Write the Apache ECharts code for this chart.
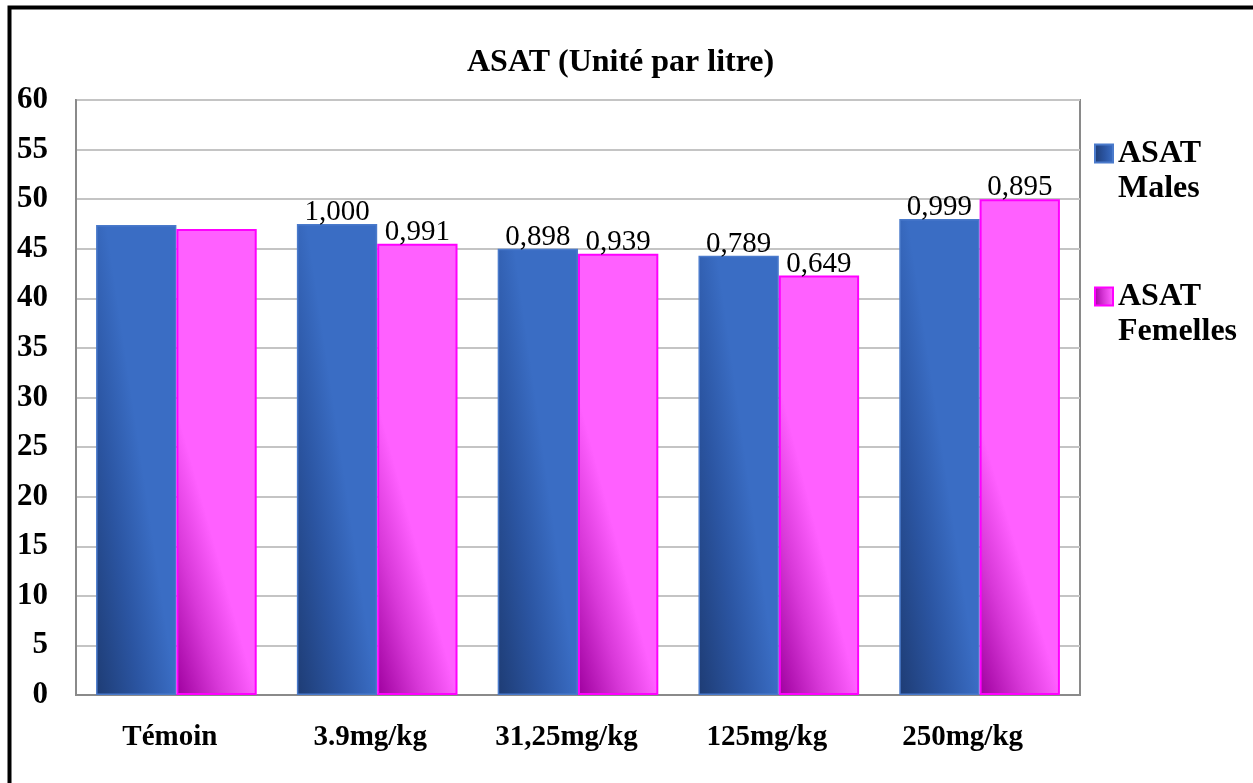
<!DOCTYPE html>
<html>
<head>
<meta charset="utf-8">
<script src="https://cdn.jsdelivr.net/npm/echarts@6/dist/echarts.min.js"></script>
<style>
html,body{margin:0;padding:0;background:#fff;}
#c{width:1253px;height:783px;}
</style>
</head>
<body>
<div id="c"></div>
<script>
var titleText = 'ASAT (Unité par litre)';
var categories = ['Témoin', '3.9mg/kg', '31,25mg/kg', '125mg/kg', '250mg/kg'];
var seriesNames = ['ASAT Males', 'ASAT Femelles'];
var malesValues = [47.4, 47.5, 45.0, 44.3, 48.0];
var femellesValues = [47.0, 45.5, 44.5, 42.3, 50.0];
var malesLabels = ['', '1,000', '0,898', '0,789', '0,999'];
var femellesLabels = ['', '0,991', '0,939', '0,649', '0,895'];
var yTicks = {min: 0, max: 60, interval: 5};

var FONT = '"Liberation Serif", "Times New Roman", serif';
var chart = echarts.init(document.getElementById('c'), null, {renderer: 'canvas'});

function grad(c0, c1, c2, x2, y2) {
  return new echarts.graphic.LinearGradient(0, 1, x2, y2, [
    {offset: 0, color: c0}, {offset: 0.55, color: c1}, {offset: 1, color: c2}
  ]);
}
var maleFill = grad('#1e3c74', '#2b55a2', '#3a6dc4', 0.98, 0.975);
var femFill = grad('#9e009e', '#d838d8', '#ff60ff', 0.93, 0.955);

function mkData(vals, labels) {
  return vals.map(function (v, i) {
    return {value: v, label: {show: labels[i] !== '', formatter: labels[i]}};
  });
}

// slight leftward drift of category labels as in the original rendering
var catShift = [13, 14, 23, 24, 34];
var catRich = {};
catShift.forEach(function (s, i) {
  catRich['c' + i] = {
    fontFamily: FONT, fontWeight: 'bold', fontSize: 29, color: '#000',
    padding: [0, s, 0, 0]
  };
});

chart.setOption({
  animation: false,
  backgroundColor: '#fff',
  title: {
    text: titleText,
    left: 467,
    top: 47,
    padding: 0,
    textStyle: {fontFamily: FONT, fontWeight: 'bold', fontSize: 32, color: '#000'}
  },
  legend: {
    orient: 'vertical',
    left: 1094,
    top: 101,
    padding: 0,
    icon: 'rect',
    itemWidth: 18,
    itemHeight: 18,
    itemGap: 38,
    data: seriesNames,
    formatter: function (n) { return '\n' + n.replace(' ', '\n'); },
    textStyle: {
      fontFamily: FONT, fontWeight: 'bold', fontSize: 32, color: '#000',
      lineHeight: 35
    }
  },
  grid: {
    left: 76, right: 173, top: 100, bottom: 88,
    show: true, borderColor: '#8a8a8a', borderWidth: 2, backgroundColor: 'transparent'
  },
  xAxis: {
    type: 'category',
    data: categories,
    axisLine: {lineStyle: {color: '#8a8a8a', width: 2}},
    axisTick: {show: false},
    axisLabel: {
      interval: 0,
      margin: 28, fontFamily: FONT, fontWeight: 'bold', fontSize: 29, color: '#000',
      formatter: function (v, i) { return '{c' + i + '|' + v + '}'; },
      rich: catRich
    }
  },
  yAxis: {
    type: 'value',
    min: yTicks.min, max: yTicks.max, interval: yTicks.interval,
    axisLine: {show: true, lineStyle: {color: '#8a8a8a', width: 2}},
    axisTick: {show: false},
    splitLine: {lineStyle: {color: '#c4c4c4', width: 2}},
    axisLabel: {
      margin: 28, fontFamily: FONT, fontWeight: 'bold', fontSize: 31, color: '#000'
    }
  },
  series: [
    {
      name: seriesNames[0],
      type: 'bar',
      barGap: '0%',
      barCategoryGap: '20%',
      data: mkData(malesValues, malesLabels),
      itemStyle: {color: maleFill, borderColor: '#4a7acb', borderWidth: 1.5},
      label: {
        position: 'top', distance: -3,
        fontFamily: FONT, fontSize: 29, color: '#000'
      }
    },
    {
      name: seriesNames[1],
      type: 'bar',
      data: mkData(femellesValues, femellesLabels),
      itemStyle: {color: femFill, borderColor: '#ff00ff', borderWidth: 2},
      label: {
        position: 'top', distance: -3,
        fontFamily: FONT, fontSize: 29, color: '#000'
      }
    }
  ],
  graphic: [{
    type: 'rect',
    shape: {x: 9.5, y: 7.5, width: 1300, height: 820},
    style: {fill: 'none', stroke: '#000', lineWidth: 4},
    silent: true,
    z: 100
  }]
});
</script>
</body>
</html>
